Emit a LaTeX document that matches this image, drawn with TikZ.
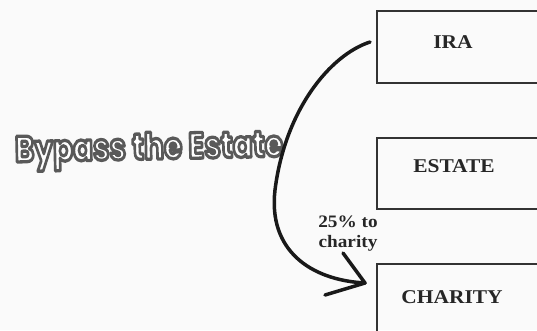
\documentclass[tikz,border=0pt]{standalone}
\usepackage{fontspec}
\setmainfont{Liberation Serif}
\newfontfamily\lblfont[FakeStretch=1.1]{Liberation Serif}
\newfontfamily\bypassfont{Poppins}
\newcommand\outlinedtext[1]{\special{pdf:literal direct 2 Tr 0.9 w 0.35 G 1 g 1 j}#1\special{pdf:literal direct 0 Tr 0.4 w 0 G 0 j}}
\newcommand\bypasstxt{\resizebox{268pt}{27pt}{\bypassfont\bfseries\outlinedtext{Bypass the Estate}}}
\tikzset{
  boxshape/.style={draw=black!80, line width=2pt, rectangle, inner sep=0pt},
  boxlabel/.style={font=\lblfont\bfseries\fontsize{19.5}{22}\selectfont, text=black!85, inner sep=0pt},
  notelabel/.style={font=\lblfont\bfseries\fontsize{17.5}{20}\selectfont, text=black!85, align=center, inner sep=0pt},
  handline/.style={line width=3.5pt, black!90, line cap=round, line join=round},
}
\begin{document}
\begin{tikzpicture}[x=1pt,y=-1pt]
\useasboundingbox (0,0) rectangle (537,330);
\clip (0,0) rectangle (537,330);
\fill[black!2] (0,0) rectangle (537,330);

% boxes (right and bottom edges run off the picture)
\node[boxshape, minimum width=200pt, minimum height=72pt, anchor=north west] (ira) at (376,10) {};
\node[boxshape, minimum width=200pt, minimum height=71pt, anchor=north west] (estate) at (376,137) {};
\node[boxshape, minimum width=200pt, minimum height=90pt, anchor=north west] (charity) at (376,263) {};

\node[boxlabel] (iralbl) at (453,42) {IRA};
\node[boxlabel] (estatelbl) at (454,166.5) {ESTATE};
\node[boxlabel] (charitylbl) at (452,297.5) {CHARITY};

\node[notelabel, anchor=base] (note) at (348,247) {25\% to\\charity};

% outlined comic-style caption
\node[anchor=base west, inner sep=0pt, rotate=1.2, text=white] (bypass) at (15,162) {\bypasstxt};

% hand-drawn arrow from IRA to CHARITY
\coordinate (s) at (370,42);
\coordinate (mid) at (275,190);
\coordinate (tip) at (365,283);
\coordinate (armA) at (343,253);
\coordinate (armB) at (325,295);
\draw[handline] (s) .. controls (330,55) and (285,110) .. (mid)
  .. controls (268,250) and (310,280) .. (tip);
\draw[handline] (armA) -- (tip) -- (armB);
\end{tikzpicture}
\end{document}
